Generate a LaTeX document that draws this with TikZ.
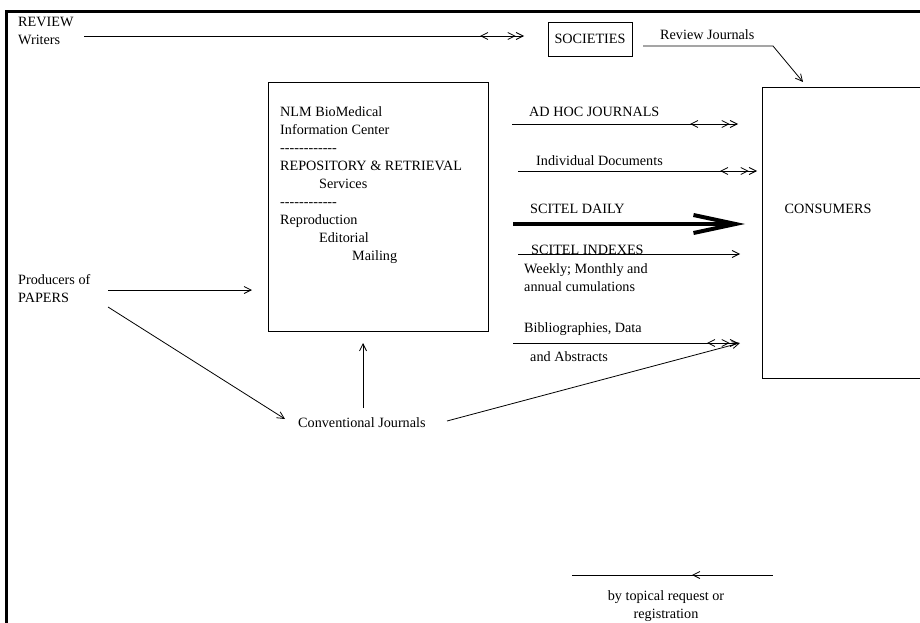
\documentclass[tikz,border=0pt]{standalone}
\usepackage{fontspec}
\setmainfont{Liberation Serif}[Ligatures=TeXOff]
\usetikzlibrary{arrows.meta,decorations.markings}

\begin{document}
\begin{tikzpicture}[x=1pt,y=-1pt,
  every node/.style={font=\fontsize{14.2pt}{17.9pt}\selectfont},
  lbl/.style={anchor=base west, inner sep=0pt},
  boxed/.style={draw, line width=0.9pt, inner sep=0pt},
  conn/.style={line width=0.8pt},
  barb/.tip={Straight Barb[length=7pt,width=7pt]},
  onetip/.style={conn, -{barb[]}},
  twotips/.style={conn, -{barb[] barb[]}},
  backtip/.style={postaction={decorate,decoration={markings,
      mark=at position #1 with {\arrowreversed{barb[]}}}}},
  heavy/.style={line width=4pt, -{Straight Barb[length=42pt,width=18pt,line width=4pt]}}
]
\useasboundingbox (0,0) rectangle (920,623);

% frame along the top and left edges
\draw[line width=3pt] (6,623) -- (6,11.5) -- (920,11.5);

% boxes
\node[boxed, minimum width=84pt, minimum height=34pt] (soc) at (590,39) {SOCIETIES};
\node[boxed, minimum width=220pt, minimum height=249pt] (nlm) at (378,206.5) {};
\node[boxed, minimum width=170pt, minimum height=291pt] (cons) at (847,232.5) {};
\node[inner sep=0pt] (consLabel) at (828,209) {CONSUMERS};

% left-hand labels
\node[lbl] (rev1) at (18,26.5) {REVIEW};
\node[lbl] (rev2) at (18,44.5) {Writers};
\node[lbl] (prod1) at (18,284.5) {Producers of};
\node[lbl] (prod2) at (18,302.5) {PAPERS};

% contents of the NLM box
\node[lbl] (n1) at (280,117) {NLM BioMedical};
\node[lbl] (n2) at (280,134.9) {Information Center};
\node[lbl] (n3) at (280,152.8) {------------};
\node[lbl] (n4) at (280,170.7) {REPOSITORY \& RETRIEVAL};
\node[lbl] (n5) at (319,188.6) {Services};
\node[lbl] (n6) at (280,206.5) {------------};
\node[lbl] (n7) at (280,224.4) {Reproduction};
\node[lbl] (n8) at (319,242.3) {Editorial};
\node[lbl] (n9) at (352,260.2) {Mailing};

% channel labels
\node[lbl] (rj) at (660,40) {Review Journals};
\node[lbl] (adhoc) at (529,117) {AD HOC JOURNALS};
\node[lbl] (indiv) at (536,165) {Individual Documents};
\node[lbl] (daily) at (530,213) {SCITEL DAILY};
\node[lbl] (idx) at (531,254) {SCITEL INDEXES};
\node[lbl] (wk1) at (524,273) {Weekly; Monthly and};
\node[lbl] (wk2) at (524,291) {annual cumulations};
\node[lbl] (bib1) at (524,332) {Bibliographies, Data};
\node[lbl] (bib2) at (530,361) {and Abstracts};
\node[lbl] (conv) at (298,427) {Conventional Journals};
\node[anchor=base, inner sep=0pt] (top1) at (666,600) {by topical request or};
\node[anchor=base, inner sep=0pt] (top2) at (666,618) {registration};

% connector end points
\coordinate (revS) at (84,36);     \coordinate (revE) at (524,36);
\coordinate (rjS) at (643,46);     \coordinate (rjK) at (773,46);
\coordinate (rjE) at (803,82);
\coordinate (adS) at (512,124);    \coordinate (adE) at (738,124);
\coordinate (inS) at (518,171);    \coordinate (inE) at (757,171);
\coordinate (dyS) at (513,224);    \coordinate (dyE) at (745,224);
\coordinate (ixS) at (518,254);    \coordinate (ixE) at (740,254);
\coordinate (bbS) at (513,343);    \coordinate (bbE) at (738,343);
\coordinate (cvR) at (447,421);    \coordinate (cvE) at (740,343);
\coordinate (cvU) at (363,408);    \coordinate (cvT) at (363,343);
\coordinate (prA) at (108,290);    \coordinate (prAE) at (252,290);
\coordinate (prB) at (108,307);    \coordinate (prBE) at (285,419);
\coordinate (tpS) at (572,575);    \coordinate (tpE) at (773,575);

% connectors
\draw[twotips, backtip=-44pt] (revS) -- (revE);
\draw[onetip] (rjS) -- (rjK) -- (rjE);
\draw[twotips, backtip=-48pt] (adS) -- (adE);
\draw[twotips, backtip=-37pt] (inS) -- (inE);
\draw[heavy] (dyS) -- (dyE);
\draw[onetip] (ixS) -- (ixE);
\draw[twotips, backtip=-31pt] (bbS) -- (bbE);
\draw[onetip] (cvR) -- (cvE);
\draw[onetip] (cvU) -- (cvT);
\draw[onetip] (prA) -- (prAE);
\draw[onetip] (prB) -- (prBE);
\draw[conn, backtip=120pt] (tpS) -- (tpE);
\end{tikzpicture}
\end{document}
